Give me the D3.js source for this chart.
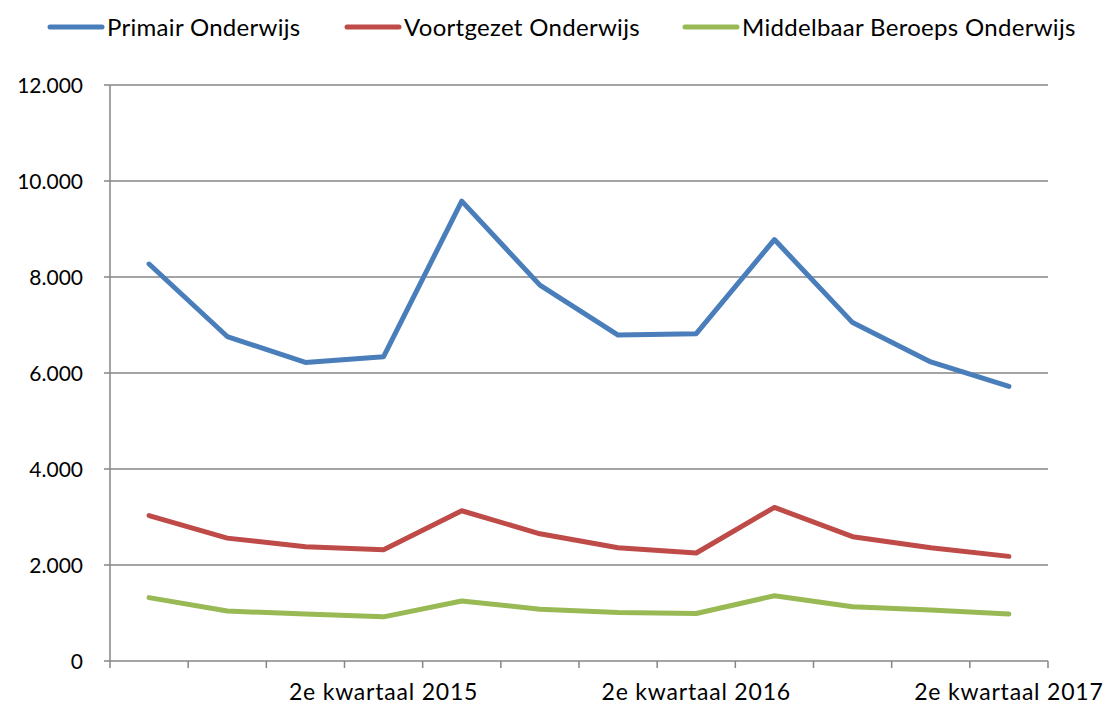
<!DOCTYPE html>
<html>
<head>
<meta charset="utf-8">
<script src="https://cdn.jsdelivr.net/npm/d3@7"></script>
<style>
  html, body { margin: 0; padding: 0; background: #fff; }
  svg text { font-family: "Lato", "Open Sans", sans-serif; fill: #000; }
</style>
</head>
<body>
<svg id="chart" width="1105" height="704"></svg>
<script>
// Quarters from 3e kwartaal 2014 to 2e kwartaal 2017
const quarters = [
  "3e kwartaal 2014", "4e kwartaal 2014", "1e kwartaal 2015", "2e kwartaal 2015",
  "3e kwartaal 2015", "4e kwartaal 2015", "1e kwartaal 2016", "2e kwartaal 2016",
  "3e kwartaal 2016", "4e kwartaal 2016", "1e kwartaal 2017", "2e kwartaal 2017"
];
const labelledQuarters = ["2e kwartaal 2015", "2e kwartaal 2016", "2e kwartaal 2017"];

const primair    = [8270, 6760, 6220, 6340, 9580, 7830, 6790, 6820, 8780, 7050, 6230, 5720];
const voortgezet = [3030, 2560, 2380, 2320, 3130, 2650, 2360, 2250, 3200, 2590, 2360, 2180];
const mbo        = [1320, 1040,  980,  920, 1250, 1080, 1010,  990, 1360, 1130, 1060,  980];

const seriesNames  = ["Primair Onderwijs", "Voortgezet Onderwijs", "Middelbaar Beroeps Onderwijs"];
const seriesColors = ["#4A7EBB", "#BE4B48", "#98B954"];
const yTicks = [0, 2000, 4000, 6000, 8000, 10000, 12000];

const series = [primair, voortgezet, mbo].map((v, i) => ({ name: seriesNames[i], color: seriesColors[i], values: v }));

const svg = d3.select("#chart");
const plotLeft = 110, plotRight = 1048, plotTop = 85, plotBottom = 661;

const x = d3.scaleBand().domain(quarters).range([plotLeft, plotRight]);
const y = d3.scaleLinear().domain([0, 12000]).range([plotBottom, plotTop]);
const fmt = v => d3.format(",")(v).replace(/,/g, ".");
const gridColor = "#868686";

// horizontal gridlines with small outward ticks
svg.append("g").selectAll("line").data(yTicks.filter(d => d > 0)).join("line")
  .attr("x1", plotLeft - 6).attr("x2", plotRight)
  .attr("y1", d => y(d)).attr("y2", d => y(d))
  .attr("stroke", gridColor).attr("stroke-width", 1.5);

// y axis labels
svg.append("g").selectAll("text").data(yTicks).join("text")
  .attr("x", 83).attr("y", d => y(d)).attr("dy", "0.36em")
  .attr("text-anchor", "end").attr("font-size", 21)
  .text(fmt);

// y axis line
svg.append("line").attr("x1", plotLeft).attr("x2", plotLeft).attr("y1", plotTop).attr("y2", plotBottom)
  .attr("stroke", gridColor).attr("stroke-width", 1.5);

// x axis line and category boundary ticks
svg.append("line").attr("x1", plotLeft - 6).attr("x2", plotRight).attr("y1", plotBottom).attr("y2", plotBottom)
  .attr("stroke", gridColor).attr("stroke-width", 1.5);
const boundaries = quarters.map(q => x(q)).concat([x(quarters[quarters.length - 1]) + x.bandwidth()]);
svg.append("g").selectAll("line").data(boundaries).join("line")
  .attr("x1", d => d).attr("x2", d => d).attr("y1", plotBottom).attr("y2", plotBottom + 7)
  .attr("stroke", gridColor).attr("stroke-width", 1.5);

// category labels (every fourth quarter)
svg.append("g").selectAll("text").data(labelledQuarters).join("text")
  .attr("x", d => x(d) + x.bandwidth() / 2).attr("y", 700)
  .attr("text-anchor", "middle").attr("font-size", 23).attr("letter-spacing", 0.8)
  .text(d => d);

// series lines
const line = d3.line()
  .x((d, i) => x(quarters[i]) + x.bandwidth() / 2)
  .y(d => y(d));
svg.append("g").selectAll("path").data(series).join("path")
  .attr("d", s => line(s.values))
  .attr("fill", "none").attr("stroke", s => s.color)
  .attr("stroke-width", 5).attr("stroke-linejoin", "round").attr("stroke-linecap", "round");

// legend
const legendX = [50, 347, 685];
const legend = svg.append("g").selectAll("g").data(series).join("g")
  .attr("transform", (d, i) => `translate(${legendX[i]},27)`);
legend.append("line").attr("x1", 0).attr("x2", 52).attr("y1", 0).attr("y2", 0)
  .attr("stroke", d => d.color).attr("stroke-width", 5).attr("stroke-linecap", "round");
legend.append("text").attr("x", 57).attr("y", 0).attr("dy", "0.36em")
  .attr("font-size", 24).attr("letter-spacing", 0.3).text(d => d.name);
</script>
</body>
</html>
